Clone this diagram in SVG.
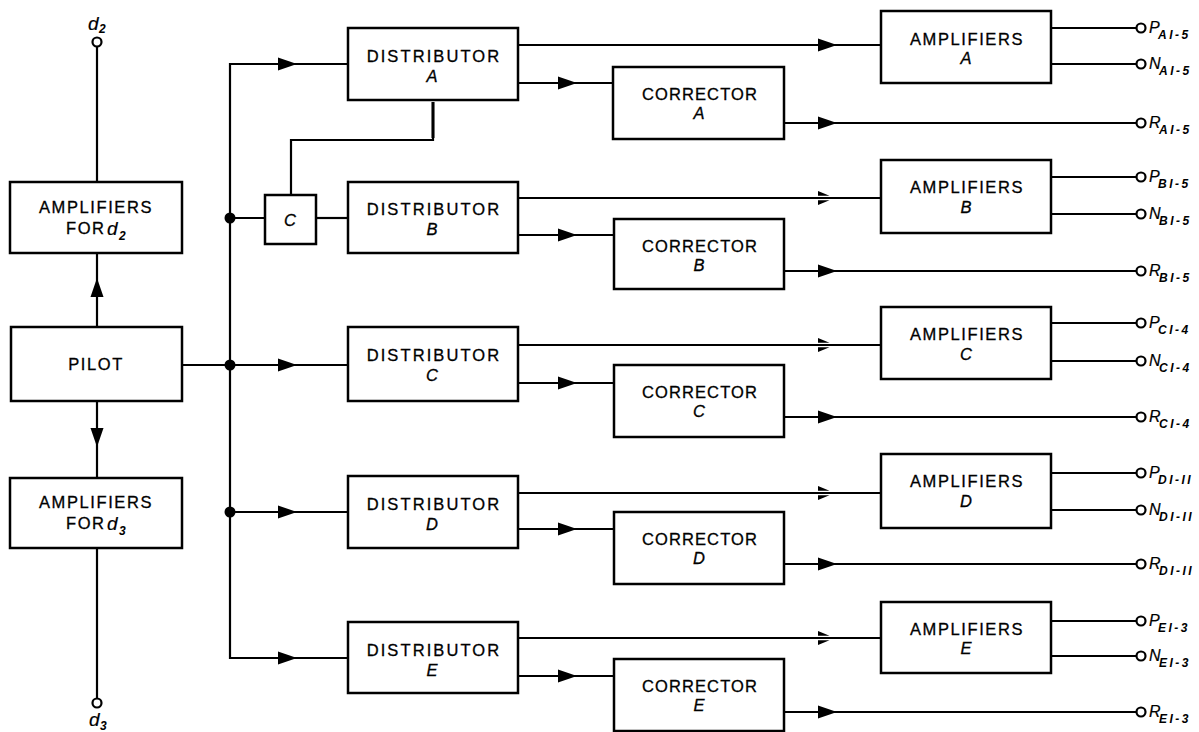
<svg xmlns="http://www.w3.org/2000/svg" xmlns:xlink="http://www.w3.org/1999/xlink" width="1199" height="732" viewBox="0 0 1199 732">
<style>
.box{fill:#fff;stroke:#000;stroke-width:2.5}
.ln{stroke:#000;stroke-width:2.2;fill:none}
.t{font-family:"Liberation Sans",Arial,sans-serif;font-size:16.5px;fill:#000;stroke:#000;stroke-width:0.3;text-anchor:middle}
.st{text-anchor:start}
.dist{letter-spacing:2.1px}
.corr{letter-spacing:1.1px}
.amp{letter-spacing:1.6px}
.it{font-style:italic}
.lbl{font-family:"Liberation Sans",Arial,sans-serif;font-style:italic;font-size:16px;fill:#000;stroke:#000;stroke-width:0.2}
.big{font-size:19px}
.sub{font-family:"Liberation Sans",Arial,sans-serif;font-style:italic;font-weight:bold;font-size:12px;letter-spacing:2.5px;fill:#000}
.term{fill:#fff;stroke:#000;stroke-width:2.2}
</style>
<defs>
<path id="ah" d="M0,0 L-19,-6.5 L-19,6.5 Z" fill="#000"/>
<path id="ahf" d="M-16,-7 L-4.5,-2.2 L-16,-2.2 Z M-16,7 L-4.5,2.2 L-16,2.2 Z" fill="#000"/>
</defs>
<rect width="1199" height="732" fill="#fff"/>

<g id="connectors">
  <line class="ln" x1="97" y1="47" x2="97" y2="182"/>
  <line class="ln" x1="97" y1="253" x2="97" y2="327"/>
  <use xlink:href="#ah" href="#ah" transform="translate(97,278) rotate(-90)"/>
  <line class="ln" x1="97" y1="401" x2="97" y2="478"/>
  <use xlink:href="#ah" href="#ah" transform="translate(97,447) rotate(90)"/>
  <line class="ln" x1="97" y1="548" x2="97" y2="698"/>
  <polyline class="ln" points="348,64 230,64 230,658 348,658"/>
  <line class="ln" x1="182" y1="365" x2="348" y2="365"/>
  <line class="ln" x1="230" y1="218" x2="265" y2="218"/>
  <line class="ln" x1="316" y1="218" x2="348" y2="218"/>
  <line class="ln" x1="230" y1="512" x2="348" y2="512"/>
  <use xlink:href="#ah" href="#ah" x="297" y="64"/>
  <use xlink:href="#ah" href="#ah" x="297" y="365"/>
  <use xlink:href="#ah" href="#ah" x="297" y="512"/>
  <use xlink:href="#ah" href="#ah" x="297" y="658"/>
  <circle cx="230" cy="218" r="5.5" fill="#000"/>
  <circle cx="230" cy="365" r="5.5" fill="#000"/>
  <circle cx="230" cy="512" r="5.5" fill="#000"/>
  <polyline class="ln" points="433,102 433,140 291,140 291,195"/>
  <line x1="433" y1="102" x2="433" y2="138" stroke="#000" stroke-width="3"/>

  <line class="ln" x1="518" y1="45" x2="881" y2="45"/>
  <use xlink:href="#ah" href="#ah" x="837" y="45"/>
  <line class="ln" x1="518" y1="83" x2="613" y2="83"/>
  <use xlink:href="#ah" href="#ah" x="577" y="83"/>
  <line class="ln" x1="784" y1="123" x2="1137" y2="123"/>
  <use xlink:href="#ah" href="#ah" x="837" y="123"/>
  <line class="ln" x1="1051" y1="28" x2="1137" y2="28"/>
  <line class="ln" x1="1051" y1="64" x2="1137" y2="64"/>

  <line class="ln" x1="518" y1="198" x2="881" y2="198"/>
  <use xlink:href="#ahf" href="#ahf" x="834" y="198"/>
  <line class="ln" x1="518" y1="235" x2="614" y2="235"/>
  <use xlink:href="#ah" href="#ah" x="577" y="235"/>
  <line class="ln" x1="784" y1="271" x2="1137" y2="271"/>
  <use xlink:href="#ah" href="#ah" x="837" y="271"/>
  <line class="ln" x1="1051" y1="177" x2="1137" y2="177"/>
  <line class="ln" x1="1051" y1="214" x2="1137" y2="214"/>

  <line class="ln" x1="518" y1="345" x2="881" y2="345"/>
  <use xlink:href="#ahf" href="#ahf" x="834" y="345"/>
  <line class="ln" x1="518" y1="383" x2="614" y2="383"/>
  <use xlink:href="#ah" href="#ah" x="577" y="383"/>
  <line class="ln" x1="784" y1="417" x2="1137" y2="417"/>
  <use xlink:href="#ah" href="#ah" x="837" y="417"/>
  <line class="ln" x1="1051" y1="323" x2="1137" y2="323"/>
  <line class="ln" x1="1051" y1="361" x2="1137" y2="361"/>

  <line class="ln" x1="518" y1="493" x2="881" y2="493"/>
  <use xlink:href="#ahf" href="#ahf" x="834" y="493"/>
  <line class="ln" x1="518" y1="529" x2="614" y2="529"/>
  <use xlink:href="#ah" href="#ah" x="577" y="529"/>
  <line class="ln" x1="784" y1="564" x2="1137" y2="564"/>
  <use xlink:href="#ah" href="#ah" x="837" y="564"/>
  <line class="ln" x1="1051" y1="473" x2="1137" y2="473"/>
  <line class="ln" x1="1051" y1="510" x2="1137" y2="510"/>

  <line class="ln" x1="518" y1="638" x2="881" y2="638"/>
  <use xlink:href="#ahf" href="#ahf" x="834" y="638"/>
  <line class="ln" x1="518" y1="676" x2="614" y2="676"/>
  <use xlink:href="#ah" href="#ah" x="577" y="676"/>
  <line class="ln" x1="784" y1="712" x2="1137" y2="712"/>
  <use xlink:href="#ah" href="#ah" x="837" y="712"/>
  <line class="ln" x1="1051" y1="621" x2="1137" y2="621"/>
  <line class="ln" x1="1051" y1="656" x2="1137" y2="656"/>
</g>

<g id="term-d2">
  <circle class="term" cx="97" cy="42" r="4.5"/>
  <text class="lbl big" x="88" y="30">d</text>
  <text class="sub" x="99" y="33">2</text>
</g>
<g id="amp-d2">
  <rect class="box" x="10" y="182" width="172" height="71"/>
  <text class="t amp" x="96" y="213">AMPLIFIERS</text>
  <text class="t amp st" x="66" y="234">FOR</text>
  <text class="lbl big" x="107" y="235">d</text>
  <text class="sub" x="119" y="240">2</text>
</g>
<g id="pilot">
  <rect class="box" x="11" y="327" width="171" height="74"/>
  <text class="t amp" x="96" y="370">PILOT</text>
</g>
<g id="amp-d3">
  <rect class="box" x="10" y="478" width="172" height="70"/>
  <text class="t amp" x="96" y="508">AMPLIFIERS</text>
  <text class="t amp st" x="66" y="529">FOR</text>
  <text class="lbl big" x="107" y="530">d</text>
  <text class="sub" x="119" y="535">3</text>
</g>
<g id="term-d3">
  <circle class="term" cx="97" cy="703" r="4.5"/>
  <text class="lbl big" x="89" y="726">d</text>
  <text class="sub" x="100" y="730">3</text>
</g>

<g id="c-box">
  <rect class="box" x="265" y="195" width="51" height="49"/>
  <text class="t it" x="290" y="226">C</text>
</g>

<g id="dist-a">
  <rect class="box" x="348" y="28" width="170" height="72"/>
  <text class="t dist" x="434" y="62">DISTRIBUTOR</text>
  <text class="t it" x="432" y="82">A</text>
</g>
<g id="dist-b">
  <rect class="box" x="348" y="182" width="170" height="71"/>
  <text class="t dist" x="434" y="215">DISTRIBUTOR</text>
  <text class="t it" x="432" y="235">B</text>
</g>
<g id="dist-c">
  <rect class="box" x="348" y="327" width="170" height="74"/>
  <text class="t dist" x="434" y="361">DISTRIBUTOR</text>
  <text class="t it" x="432" y="381">C</text>
</g>
<g id="dist-d">
  <rect class="box" x="348" y="476" width="170" height="72"/>
  <text class="t dist" x="434" y="510">DISTRIBUTOR</text>
  <text class="t it" x="432" y="530">D</text>
</g>
<g id="dist-e">
  <rect class="box" x="348" y="622" width="170" height="71"/>
  <text class="t dist" x="434" y="656">DISTRIBUTOR</text>
  <text class="t it" x="432" y="676">E</text>
</g>

<g id="corr-a">
  <rect class="box" x="613" y="67" width="171" height="72"/>
  <text class="t corr" x="700" y="100">CORRECTOR</text>
  <text class="t it" x="699" y="119">A</text>
</g>
<g id="corr-b">
  <rect class="box" x="614" y="219" width="170" height="70"/>
  <text class="t corr" x="700" y="252">CORRECTOR</text>
  <text class="t it" x="699" y="271">B</text>
</g>
<g id="corr-c">
  <rect class="box" x="614" y="365" width="170" height="72"/>
  <text class="t corr" x="700" y="398">CORRECTOR</text>
  <text class="t it" x="699" y="417">C</text>
</g>
<g id="corr-d">
  <rect class="box" x="614" y="512" width="170" height="72"/>
  <text class="t corr" x="700" y="545">CORRECTOR</text>
  <text class="t it" x="699" y="564">D</text>
</g>
<g id="corr-e">
  <rect class="box" x="614" y="659" width="170" height="72"/>
  <text class="t corr" x="700" y="692">CORRECTOR</text>
  <text class="t it" x="699" y="711">E</text>
</g>

<g id="amp-a">
  <rect class="box" x="881" y="11" width="170" height="72"/>
  <text class="t amp" x="967" y="45">AMPLIFIERS</text>
  <text class="t it" x="966" y="64">A</text>
</g>
<g id="amp-b">
  <rect class="box" x="881" y="160" width="170" height="73"/>
  <text class="t amp" x="967" y="193">AMPLIFIERS</text>
  <text class="t it" x="966" y="213">B</text>
</g>
<g id="amp-c">
  <rect class="box" x="881" y="307" width="170" height="72"/>
  <text class="t amp" x="967" y="340">AMPLIFIERS</text>
  <text class="t it" x="966" y="360">C</text>
</g>
<g id="amp-d">
  <rect class="box" x="881" y="454" width="170" height="74"/>
  <text class="t amp" x="967" y="487">AMPLIFIERS</text>
  <text class="t it" x="966" y="507">D</text>
</g>
<g id="amp-e">
  <rect class="box" x="881" y="602" width="170" height="71"/>
  <text class="t amp" x="967" y="635">AMPLIFIERS</text>
  <text class="t it" x="966" y="654">E</text>
</g>

<g id="out-a">
  <circle class="term" cx="1141" cy="28" r="4.5"/><text class="lbl" x="1149" y="33">P</text><text class="sub" x="1158" y="39">AI-5</text>
  <circle class="term" cx="1141" cy="64" r="4.5"/><text class="lbl" x="1149" y="69">N</text><text class="sub" x="1159" y="75">AI-5</text>
  <circle class="term" cx="1141" cy="123" r="4.5"/><text class="lbl" x="1149" y="128">R</text><text class="sub" x="1159" y="134">AI-5</text>
</g>
<g id="out-b">
  <circle class="term" cx="1141" cy="177" r="4.5"/><text class="lbl" x="1149" y="182">P</text><text class="sub" x="1158" y="188">BI-5</text>
  <circle class="term" cx="1141" cy="214" r="4.5"/><text class="lbl" x="1149" y="219">N</text><text class="sub" x="1159" y="225">BI-5</text>
  <circle class="term" cx="1141" cy="271" r="4.5"/><text class="lbl" x="1149" y="276">R</text><text class="sub" x="1159" y="282">BI-5</text>
</g>
<g id="out-c">
  <circle class="term" cx="1141" cy="323" r="4.5"/><text class="lbl" x="1149" y="328">P</text><text class="sub" x="1158" y="334">CI-4</text>
  <circle class="term" cx="1141" cy="361" r="4.5"/><text class="lbl" x="1149" y="366">N</text><text class="sub" x="1159" y="372">CI-4</text>
  <circle class="term" cx="1141" cy="417" r="4.5"/><text class="lbl" x="1149" y="422">R</text><text class="sub" x="1159" y="428">CI-4</text>
</g>
<g id="out-d">
  <circle class="term" cx="1141" cy="473" r="4.5"/><text class="lbl" x="1149" y="478">P</text><text class="sub" x="1158" y="484">DI-II</text>
  <circle class="term" cx="1141" cy="510" r="4.5"/><text class="lbl" x="1149" y="515">N</text><text class="sub" x="1159" y="521">DI-II</text>
  <circle class="term" cx="1141" cy="564" r="4.5"/><text class="lbl" x="1149" y="569">R</text><text class="sub" x="1159" y="575">DI-II</text>
</g>
<g id="out-e">
  <circle class="term" cx="1141" cy="621" r="4.5"/><text class="lbl" x="1149" y="626">P</text><text class="sub" x="1158" y="632">EI-3</text>
  <circle class="term" cx="1141" cy="656" r="4.5"/><text class="lbl" x="1149" y="661">N</text><text class="sub" x="1159" y="667">EI-3</text>
  <circle class="term" cx="1141" cy="712" r="4.5"/><text class="lbl" x="1149" y="717">R</text><text class="sub" x="1159" y="723">EI-3</text>
</g>
</svg>
